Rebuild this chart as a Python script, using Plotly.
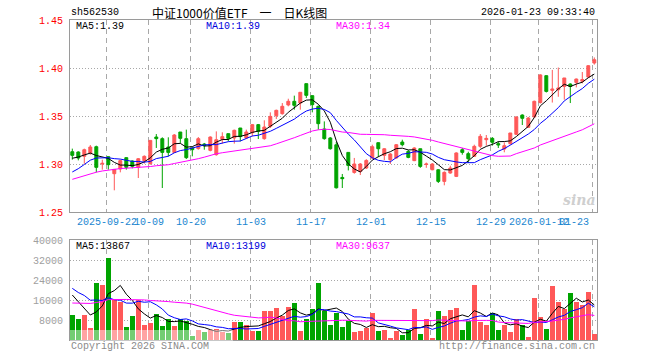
import plotly.graph_objects as go
import pandas as pd

# ---------------- data ----------------
opens = [1.3128, 1.3125, 1.3080, 1.3115, 1.3180, 1.3000, 1.3076, 1.2899, 1.2948, 1.3066,
         1.3031, 1.2965, 1.3035, 1.3003, 1.3281, 1.3264, 1.3177, 1.3121, 1.3333, 1.3264,
         1.3167, 1.3160, 1.3208, 1.3142, 1.3097, 1.3257, 1.3316, 1.3271, 1.3375, 1.3271,
         1.3326, 1.3410, 1.3264, 1.3392, 1.3503, 1.3524, 1.3615, 1.3653, 1.3635, 1.3837,
         1.3712, 1.3601, 1.3365, 1.3271, 1.3200, 1.2860, 1.3121, 1.2912, 1.2923, 1.2958,
         1.3063, 1.3222, 1.3090, 1.3045, 1.3063, 1.3229, 1.3131, 1.3035, 1.3159, 1.2995,
         1.2940, 1.2940, 1.2819, 1.2906, 1.2871, 1.3149, 1.3108, 1.3080, 1.3184, 1.3253,
         1.3267, 1.3212, 1.3156, 1.3212, 1.3309, 1.3510, 1.3382, 1.3490, 1.3640, 1.3920,
         1.3767, 1.3774, 1.3808, 1.3833, 1.3850, 1.3862, 1.3906, 1.4052]
highs = [1.3160, 1.3132, 1.3160, 1.3198, 1.3191, 1.3045, 1.3080, 1.2944, 1.3045, 1.3069,
         1.3038, 1.3062, 1.3090, 1.3246, 1.3312, 1.3278, 1.3278, 1.3312, 1.3333, 1.3358,
         1.3174, 1.3281, 1.3219, 1.3288, 1.3340, 1.3330, 1.3316, 1.3358, 1.3375, 1.3358,
         1.3417, 1.3417, 1.3455, 1.3538, 1.3566, 1.3635, 1.3680, 1.3712, 1.3747, 1.3837,
         1.3712, 1.3608, 1.3444, 1.3280, 1.3230, 1.2896, 1.3121, 1.3063, 1.3010, 1.3050,
         1.3201, 1.3225, 1.3165, 1.3115, 1.3208, 1.3253, 1.3145, 1.3174, 1.3159, 1.3015,
         1.3010, 1.2946, 1.2923, 1.2982, 1.3122, 1.3167, 1.3128, 1.3201, 1.3312, 1.3302,
         1.3281, 1.3236, 1.3226, 1.3323, 1.3496, 1.3517, 1.3490, 1.3660, 1.3935, 1.3923,
         1.3980, 1.4005, 1.3896, 1.3840, 1.3890, 1.3958, 1.4030, 1.4110]
lows = [1.3045, 1.3038, 1.3003, 1.3097, 1.2913, 1.2941, 1.2941, 1.2726, 1.2913, 1.2941,
        1.2955, 1.2854, 1.3003, 1.2993, 1.3167, 1.2750, 1.3080, 1.3115, 1.3219, 1.3052,
        1.3080, 1.3149, 1.3149, 1.3132, 1.3087, 1.3212, 1.3236, 1.3212, 1.3236, 1.3260,
        1.3288, 1.3260, 1.3253, 1.3375, 1.3469, 1.3514, 1.3601, 1.3566, 1.3566, 1.3687,
        1.3538, 1.3358, 1.3253, 1.3150, 1.2745, 1.2750, 1.2933, 1.2899, 1.2885, 1.2948,
        1.3053, 1.3073, 1.3040, 1.3000, 1.3055, 1.3184, 1.3060, 1.3030, 1.2960, 1.2960,
        1.2935, 1.2802, 1.2778, 1.2899, 1.2864, 1.3097, 1.3010, 1.3073, 1.3167, 1.3191,
        1.3191, 1.3167, 1.3122, 1.3201, 1.3302, 1.3406, 1.3375, 1.3485, 1.3630, 1.3745,
        1.3640, 1.3700, 1.3670, 1.3635, 1.3798, 1.3840, 1.3900, 1.4035]
closes = [1.3090, 1.3062, 1.3149, 1.3177, 1.2965, 1.3007, 1.2993, 1.2944, 1.3035, 1.2965,
          1.2976, 1.3055, 1.3080, 1.3246, 1.3264, 1.3121, 1.3121, 1.3302, 1.3267, 1.3066,
          1.3149, 1.3264, 1.3191, 1.3281, 1.3253, 1.3285, 1.3267, 1.3351, 1.3285, 1.3333,
          1.3410, 1.3340, 1.3385, 1.3496, 1.3559, 1.3601, 1.3653, 1.3611, 1.3747, 1.3715,
          1.3618, 1.3420, 1.3264, 1.3159, 1.2752, 1.2847, 1.2985, 1.3000, 1.3000, 1.3037,
          1.3180, 1.3159, 1.3159, 1.3104, 1.3201, 1.3201, 1.3069, 1.3167, 1.2975, 1.3000,
          1.3000, 1.2819, 1.2913, 1.2958, 1.3115, 1.3121, 1.3055, 1.3184, 1.3288, 1.3267,
          1.3226, 1.3198, 1.3191, 1.3323, 1.3490, 1.3476, 1.3479, 1.3653, 1.3928, 1.3756,
          1.3781, 1.3792, 1.3896, 1.3808, 1.3885, 1.3880, 1.4024, 1.4086]
volumes = [10000, 8270, 10000, 4940, 22930, 22000, 32930, 16000, 15330, 5330,
           9600, 16000, 6000, 6940, 10400, 5600, 8270, 5600, 8270, 7740,
           1600, 4000, 3330, 4000, 4270, 3330, 2930, 7330, 7330, 6000,
           3740, 3740, 11740, 11740, 12940, 9600, 13070, 14940, 3740, 8400,
           12270, 22930, 11740, 6000, 10940, 5330, 7740, 3330, 3740, 4940,
           10940, 3740, 4000, 930, 3740, 2000, 4000, 12400, 2400, 8400,
           930, 11600, 9600, 12000, 12940, 4000, 7740, 22000, 7330, 6000,
           10940, 4000, 6000, 3330, 8270, 6000, 1330, 16800, 9070, 4400,
           21600, 15330, 12400, 18930, 15330, 14000, 19340, 2540]

# estimated history before the first visible day (only seeds the moving averages)
prior_close = [1.248, 1.252, 1.255, 1.258, 1.262,
               1.268, 1.274, 1.280, 1.285, 1.290, 1.295, 1.298, 1.300, 1.302, 1.298,
               1.295, 1.292, 1.288, 1.284, 1.280,
               1.272, 1.271, 1.273, 1.274, 1.297,
               1.300, 1.304, 1.308, 1.309]
prior_volume = [9000, 11000, 8500, 12000, 10500, 9500, 13000, 11500, 10000, 12500,
                14000, 11000, 13500, 12000, 10500, 15000, 13000, 12300, 14500, 14000,
                25000, 21840, 24000, 22000, 23860,
                22000, 24000, 17210, 16790]

tick_idx = [6, 13, 20, 30, 40, 50, 60, 70, 78, 87]
tick_text = ["2025-09-22", "10-09", "10-20", "11-03", "11-17", "12-01",
             "12-15", "12-29", "2026-01-12", "01-23"]

header_code = "sh562530"
header_title = "中证1000价值ETF\u2002\u2002一\u2002\u2002日K线图"
header_time = "2026-01-23 09:33:40"
price_ma_text = ["MA5:1.39", "MA10:1.39", "MA30:1.34"]
vol_ma_text = ["MA5:13867", "MA10:13199", "MA30:9637"]
price_ticks = [1.25, 1.30, 1.35, 1.40, 1.45]
vol_ticks = [8000, 16000, 24000, 32000, 40000]

# ---------------- styling ----------------
RED = "#ff5858"
GREEN = "#00a400"
MA_COLORS = ["#000000", "#0000ff", "#ff00ff"]
MONO = "Liberation Mono"
GRID = "#a8a8a8"
FRAME = "#9a9a9a"

W, H = 660, 360
ML, MR, MT, MB = 70, 63, 20, 20
PW, PH = W - ML - MR, H - MT - MB

n = len(closes)
idx = list(range(n))

cs = pd.Series(prior_close + closes)
vs = pd.Series(prior_volume + volumes)
k = len(prior_close)
price_ma = [cs.rolling(w).mean().iloc[k:].tolist() for w in (5, 10, 30)]
vol_ma = [vs.rolling(w).mean().iloc[len(prior_volume):].tolist() for w in (5, 10, 30)]

vol_colors = [RED if c >= o else GREEN for o, c in zip(opens, closes)]

fig = go.Figure()
fig.add_trace(go.Candlestick(
    x=idx, open=opens, high=highs, low=lows, close=closes,
    increasing=dict(line=dict(color=RED, width=1), fillcolor=RED),
    decreasing=dict(line=dict(color=GREEN, width=1), fillcolor=GREEN),
    whiskerwidth=0, xaxis="x", yaxis="y", showlegend=False, hoverinfo="skip"))
for m, col in zip(price_ma, MA_COLORS):
    fig.add_trace(go.Scatter(x=idx, y=m, mode="lines", line=dict(color=col, width=1),
                             xaxis="x", yaxis="y", showlegend=False, hoverinfo="skip"))

fig.add_trace(go.Bar(x=idx, y=volumes, marker=dict(color=vol_colors, line=dict(width=0)),
                     width=0.8, xaxis="x2", yaxis="y2", showlegend=False, hoverinfo="skip"))
for m, col in zip(vol_ma, MA_COLORS):
    fig.add_trace(go.Scatter(x=idx, y=m, mode="lines", line=dict(color=col, width=1),
                             xaxis="x2", yaxis="y2", showlegend=False, hoverinfo="skip"))

x_left = -(72.3 - ML) / 6.0
x_right = (n - 1) + (ML + PW - 594.3) / 6.0
grid_x = [t - 0.25 for t in tick_idx]

xcommon = dict(range=[x_left, x_right], showticklabels=False, tickvals=grid_x,
               showgrid=True, gridcolor=GRID, gridwidth=1, griddash="5px,4px",
               showline=True, mirror=True, linecolor=FRAME, linewidth=1,
               zeroline=False, ticks="", rangeslider=dict(visible=False), fixedrange=True)

fig.update_layout(
    width=W, height=H, margin=dict(l=ML, r=MR, t=MT, b=MB),
    paper_bgcolor="white", plot_bgcolor="white",
    font=dict(family=MONO, size=10, color="black"),
    bargap=0,
    xaxis=dict(**xcommon, anchor="y"),
    xaxis2=dict(**xcommon, anchor="y2", matches="x"),
    yaxis=dict(domain=[(340 - 212) / PH, 1.0],
               range=[1.25, 1.45], tickvals=price_ticks,
               ticktext=[f"{v:.2f}" for v in price_ticks],
               tickfont=dict(color="#ff0000", family=MONO, size=10),
               showgrid=True, gridcolor=GRID, griddash="1px,2px",
               showline=True, mirror=True, linecolor=FRAME, zeroline=False,
               ticks="", ticklabelstandoff=4, fixedrange=True),
    yaxis2=dict(domain=[0, (340 - 240) / PH], range=[0, 40000], tickvals=vol_ticks,
                ticktext=[str(v) for v in vol_ticks],
                tickfont=dict(color="#a0a0a0", family=MONO, size=10),
                showgrid=True, gridcolor=GRID, griddash="1px,2px",
                showline=True, mirror=True, linecolor=FRAME, zeroline=False,
                ticks="", ticklabelstandoff=4, fixedrange=True),
)


def px_x(px):
    return (px - ML) / PW


def px_y(py):
    return (MT + PH - py) / PH


ann = []


def text(t, px, py, color="black", size=10, family=MONO, xanchor="left"):
    ann.append(dict(text=t, x=px_x(px), y=px_y(py), xref="paper", yref="paper",
                    xanchor=xanchor, yanchor="middle", showarrow=False,
                    font=dict(color=color, size=size, family=family)))


text(header_code, 69, 13)
text(header_title, 150, 13, size=12, family="Noto Sans CJK SC")
text(header_time, 597, 13, xanchor="right")

ma_x = [74, 204, 334]
for t, xx, col in zip(price_ma_text, ma_x, ["#000000", "#0000dd", "#ff00ff"]):
    text(t, xx, 27, color=col)
for t, xx, col in zip(vol_ma_text, ma_x, ["#000000", "#0000dd", "#ff00ff"]):
    text(t, xx, 246, color=col)

# date labels under price panel
for i, (ti, tt) in enumerate(zip(grid_x, tick_text)):
    last = i == len(tick_idx) - 1
    ann.append(dict(text=tt, x=ti, y=px_y(222), xref="x", yref="paper",
                    xanchor="right" if last else "center", yanchor="middle",
                    xshift=-2 if last else 0, showarrow=False,
                    font=dict(color="#1a86d0", size=10, family=MONO)))

# watermarks
text("<i><b>sina</b></i>", 597, 200, color="#cfcfcf", size=14, family="DejaVu Serif",
     xanchor="right")
text("Copyright 2026 SINA.COM", 69, 346, color="#8a8a8a", size=10)
text("http://finance.sina.com.cn", 597, 346, color="#8a8a8a", size=10, xanchor="right")

fig.update_layout(annotations=ann)
fig.add_shape(type="rect", xref="paper", yref="paper", x0=px_x(70), x1=px_x(233),
              y0=px_y(352), y1=px_y(330), fillcolor="rgba(255,255,255,0.45)",
              line=dict(width=0), layer="above")

fig.write_html("out.html")
